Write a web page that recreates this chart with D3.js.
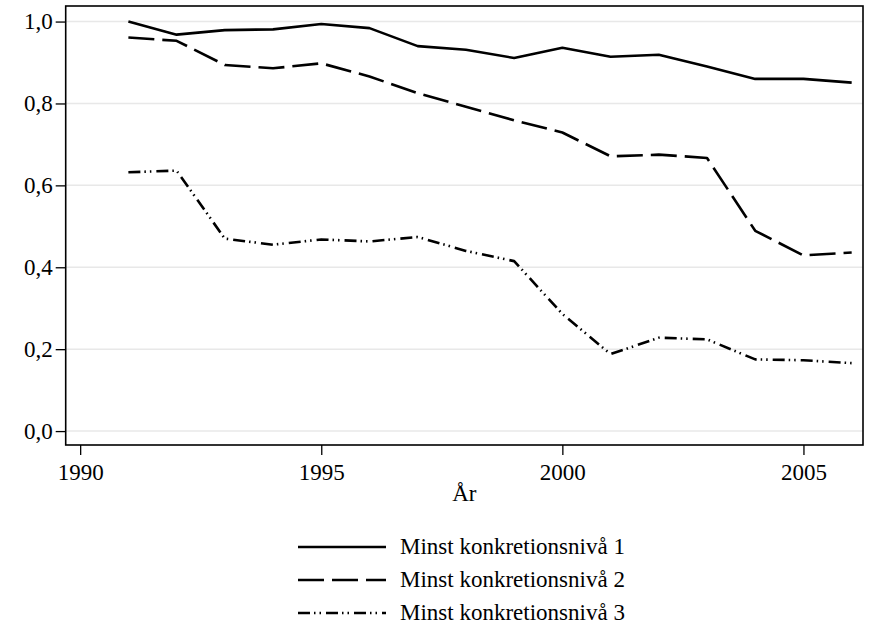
<!DOCTYPE html>
<html>
<head>
<meta charset="utf-8">
<script src="https://cdn.jsdelivr.net/npm/d3@7"></script>
<style>
  html, body { margin: 0; padding: 0; background: #fff; }
  svg { display: block; }
  text { font-family: "Liberation Serif", "Times New Roman", serif; fill: #000; }
</style>
</head>
<body>
<svg id="chart" width="870" height="625"></svg>
<script>
const years = [1991,1992,1993,1994,1995,1996,1997,1998,1999,2000,2001,2002,2003,2004,2005,2006];
const niva1 = [1.000,0.968,0.979,0.981,0.994,0.984,0.940,0.931,0.911,0.936,0.914,0.919,0.890,0.860,0.860,0.851];
const niva2 = [0.961,0.953,0.894,0.886,0.898,0.866,0.825,0.792,0.759,0.729,0.671,0.675,0.667,0.489,0.429,0.436];
const niva3 = [0.632,0.636,0.470,0.455,0.468,0.463,0.474,0.440,0.415,0.286,0.188,0.228,0.224,0.175,0.173,0.166];
const seriesNames = ["Minst konkretionsnivå 1","Minst konkretionsnivå 2","Minst konkretionsnivå 3"];
const xTicks = [1990,1995,2000,2005];
const yTicks = [0,0.2,0.4,0.6,0.8,1.0];
const xTitle = "År";

const dashes = [null, "26,8", "12,4,1.5,4,1.5,5"];
const seriesData = [niva1, niva2, niva3];

const svg = d3.select("#chart");
const x = d3.scaleLinear().domain([1989.7, 2006.235]).range([65.7, 863]);
const y = d3.scaleLinear().domain([-0.034, 1.038]).range([445, 6]);
const fmt = v => d3.format(".1f")(v).replace(".", ",");

// gridlines
svg.append("g").selectAll("line").data(yTicks).join("line")
  .attr("x1", x.range()[0]).attr("x2", x.range()[1])
  .attr("y1", d => y(d)).attr("y2", d => y(d))
  .attr("stroke", "#e8e8e8").attr("stroke-width", 1.5);

// lines
const line = d3.line().x((d,i) => x(years[i])).y(d => y(d));
seriesData.forEach((s, k) => {
  svg.append("path").datum(s)
    .attr("d", line)
    .attr("fill", "none")
    .attr("stroke", "#000")
    .attr("stroke-width", 2.6)
    .attr("stroke-linejoin", "round")
    .attr("stroke-dasharray", dashes[k]);
});

// frame
svg.append("rect")
  .attr("x", x.range()[0]).attr("y", y.range()[1])
  .attr("width", x.range()[1] - x.range()[0])
  .attr("height", y.range()[0] - y.range()[1])
  .attr("fill", "none").attr("stroke", "#000").attr("stroke-width", 1.6);

// y axis
const yAxis = d3.axisLeft(y).tickValues(yTicks).tickFormat(fmt).tickSize(10).tickPadding(3);
const gy = svg.append("g").attr("transform", `translate(${x.range()[0]},0)`).call(yAxis);
gy.select(".domain").remove();
gy.selectAll(".tick line").attr("stroke", "#000").attr("stroke-width", 1.3);
gy.selectAll(".tick text").attr("font-size", 23).attr("font-family", "Liberation Serif").attr("fill", "#000");

// x axis
const xAxis = d3.axisBottom(x).tickValues(xTicks).tickFormat(d3.format("d")).tickSize(10).tickPadding(9);
const gx = svg.append("g").attr("transform", `translate(0,${y.range()[0]})`).call(xAxis);
gx.select(".domain").remove();
gx.selectAll(".tick line").attr("stroke", "#000").attr("stroke-width", 1.3);
gx.selectAll(".tick text").attr("font-size", 23).attr("font-family", "Liberation Serif").attr("fill", "#000");

// x title
svg.append("text").attr("x", (x.range()[0] + x.range()[1]) / 2).attr("y", 501)
  .attr("text-anchor", "middle").attr("font-size", 23).text(xTitle);

// legend
const leg = svg.append("g");
seriesNames.forEach((name, k) => {
  const ly = 547 + k * 33;
  leg.append("line").attr("x1", 298).attr("x2", 386).attr("y1", ly).attr("y2", ly)
    .attr("stroke", "#000").attr("stroke-width", 2.6)
    .attr("stroke-dasharray", dashes[k]);
  leg.append("text").attr("x", 400).attr("y", ly + 7).attr("font-size", 23).text(name);
});
</script>
</body>
</html>
